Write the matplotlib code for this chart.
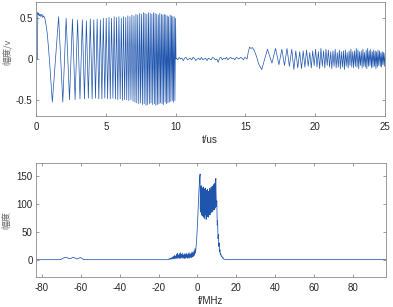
import numpy as np
import matplotlib
matplotlib.use("Agg")
import matplotlib.pyplot as plt

plt.rcParams['font.family'] = ['Liberation Sans', 'Noto Sans CJK SC', 'DejaVu Sans']
plt.rcParams['axes.unicode_minus'] = False

LINE = '#1f55ad'
GRAY = '#8a8a8a'
CJK = ['Noto Sans CJK SC', 'DejaVu Sans']

# ---------------- time domain (us, V) ----------------
# leading lobe of the transmitted chirp
start_t = [0.0, 0.1, 0.13, 0.16, 0.2, 0.25, 0.3, 0.35, 0.42, 0.48, 0.55, 0.63,
           0.72, 0.81, 0.96, 1.08]
start_v = [0.0, 0.0, 0.57, 0.54, 0.56, 0.53, 0.55, 0.52, 0.55, 0.51, 0.53, 0.5,
           0.42, 0.31, 0.0, -0.3]

# extrema of the transmitted chirp
chirp_t = [1.17, 1.62, 1.92, 2.16, 2.40, 2.61, 2.80, 2.98, 3.15, 3.32,
           3.47, 3.61, 3.75, 3.89, 4.02, 4.14, 4.26, 4.38, 4.50, 4.61,
           4.72, 4.82, 4.93, 5.03, 5.13, 5.23, 5.32, 5.41, 5.51, 5.60,
           5.69, 5.77, 5.86, 5.94, 6.03, 6.11, 6.19, 6.27, 6.35, 6.43,
           6.50, 6.58, 6.65, 6.73, 6.80, 6.87, 6.95, 7.02, 7.09, 7.16,
           7.22, 7.29, 7.36, 7.43, 7.49, 7.56, 7.62, 7.69, 7.75, 7.81,
           7.88, 7.94, 8.00, 8.06, 8.12, 8.18, 8.24, 8.30, 8.36, 8.42,
           8.48, 8.53, 8.59, 8.65, 8.70, 8.76, 8.81, 8.87, 8.92, 8.98,
           9.03, 9.09, 9.14, 9.19, 9.25, 9.30, 9.35, 9.40, 9.45, 9.50,
           9.55, 9.61, 9.66, 9.71, 9.76, 9.80, 9.85, 9.90, 9.95, 10.00]
chirp_v = [-0.53, 0.52, -0.53, 0.50, -0.50, 0.49, -0.50, 0.48, -0.49, 0.48,
           -0.49, 0.47, -0.48, 0.49, -0.49, 0.48, -0.48, 0.49, -0.49, 0.48,
           -0.49, 0.50, -0.48, 0.50, -0.49, 0.51, -0.49, 0.50, -0.48, 0.52,
           -0.49, 0.51, -0.50, 0.52, -0.49, 0.50, -0.51, 0.52, -0.50, 0.51,
           -0.50, 0.53, -0.51, 0.52, -0.50, 0.54, -0.52, 0.53, -0.53, 0.55,
           -0.54, 0.54, -0.55, 0.56, -0.54, 0.55, -0.56, 0.57, -0.55, 0.56,
           -0.57, 0.55, -0.56, 0.57, -0.55, 0.56, -0.54, 0.55, -0.56, 0.57,
           -0.55, 0.56, -0.57, 0.55, -0.56, 0.54, -0.55, 0.56, -0.54, 0.55,
           -0.55, 0.54, -0.56, 0.55, -0.53, 0.54, -0.55, 0.53, -0.54, 0.52,
           -0.53, 0.54, -0.52, 0.53, -0.51, 0.52, -0.53, 0.52, -0.51, 0.50]

# quiet gap between transmit and echo
noise_t = np.linspace(10.05, 15.05, 51)
noise_v = [0.01, -0.01, 0.02, 0.00, 0.01, -0.02, 0.01, 0.02, -0.01, 0.00,
           0.01, -0.01, 0.02, 0.01, -0.02, 0.00, 0.01, -0.01, 0.02, -0.01,
           0.00, 0.01, -0.02, 0.01, 0.00, -0.01, 0.02, 0.01, -0.01, 0.00,
           -0.04, 0.01, 0.02, -0.01, 0.01, 0.00, 0.02, -0.01, 0.01, 0.02,
           0.00, 0.01, -0.01, 0.02, 0.01, 0.00, 0.02, 0.01, -0.01, 0.02, 0.01]

# echo
echo0_t = [15.12, 15.2, 15.3, 15.4, 15.5, 15.62, 15.8, 15.95]
echo0_v = [0.0, 0.08, 0.145, 0.13, 0.14, 0.11, 0.03, -0.06]
echo_t = [16.17, 16.58, 16.90, 17.16, 17.40, 17.61, 17.80, 17.98, 18.15, 18.32,
          18.47, 18.61, 18.75, 18.89, 19.02, 19.14, 19.26, 19.38, 19.50, 19.61,
          19.72, 19.82, 19.93, 20.03, 20.13, 20.23, 20.32, 20.41, 20.51, 20.60,
          20.69, 20.77, 20.86, 20.94, 21.03, 21.11, 21.19, 21.27, 21.35, 21.43,
          21.50, 21.58, 21.65, 21.73, 21.80, 21.87, 21.95, 22.02, 22.09, 22.16,
          22.22, 22.29, 22.36, 22.43, 22.49, 22.56, 22.62, 22.69, 22.75, 22.81,
          22.88, 22.94, 23.00, 23.06, 23.12, 23.18, 23.24, 23.30, 23.36, 23.42,
          23.48, 23.53, 23.59, 23.65, 23.70, 23.76, 23.81, 23.87, 23.92, 23.98,
          24.03, 24.09, 24.14, 24.19, 24.25, 24.30, 24.35, 24.40, 24.45, 24.50,
          24.55, 24.61, 24.66, 24.71, 24.76, 24.80, 24.85, 24.90, 24.95, 25.00]
echo_v = [-0.13, 0.12, -0.05, 0.13, -0.07, 0.12, -0.08, 0.13, -0.09, 0.12,
          -0.13, 0.10, -0.11, 0.09, -0.12, 0.10, -0.10, 0.11, -0.09, 0.08,
          -0.11, 0.10, -0.08, 0.12, -0.10, 0.09, -0.12, 0.13, -0.09, 0.10,
          -0.11, 0.12, -0.08, 0.11, -0.10, 0.09, -0.12, 0.10, -0.09, 0.12,
          -0.11, 0.08, -0.10, 0.11, -0.12, 0.09, -0.10, 0.10, -0.13, 0.11,
          -0.09, 0.08, -0.11, 0.10, -0.08, 0.12, -0.10, 0.09, -0.11, 0.10,
          -0.09, 0.13, -0.10, 0.11, -0.12, 0.09, -0.08, 0.10, -0.11, 0.12,
          -0.09, 0.08, -0.10, 0.11, -0.12, 0.13, -0.09, 0.10, -0.08, 0.12,
          -0.11, 0.09, -0.10, 0.11, -0.09, 0.10, -0.12, 0.09, -0.10, 0.11,
          -0.08, 0.10, -0.09, 0.08, -0.10, 0.09, -0.07, 0.08, -0.09, 0.07]

# ---------------- spectrum (MHz, amplitude) ----------------
spec_a_f = [-83, -71, -70, -69, -68, -67, -66, -65, -64, -63, -62, -61, -60, -59, -58, -15.5]
spec_a_v = [0.3, 0.3, 1.0, 3.0, 4.5, 4.0, 2.0, 2.5, 4.5, 3.5, 1.5, 3.0, 4.0, 1.5, 0.3, 0.3]

spec_b_f = np.linspace(-15, -1, 57)
spec_b_v = [0.5, 1.5, 0.8, 2.5, 1.0, 3.0, 1.2, 4.0,
            1.5, 5.0, 2.0, 6.5, 1.5, 8.0, 2.5, 7.0,
            2.0, 10.0, 3.0, 12.0, 2.5, 9.0, 3.5, 11.0,
            2.0, 13.0, 3.0, 10.0, 4.0, 12.0, 2.5, 9.0,
            3.5, 11.0, 2.0, 10.0, 3.0, 12.0, 4.0, 9.5,
            2.5, 11.0, 3.5, 13.0, 3.0, 10.0, 4.5, 12.0,
            3.5, 14.0, 5.0, 13.0, 6.0, 16.0, 8.0, 20.0, 12.0]

spec_c_f = [-0.75, -0.5, -0.25, 0.0, 0.25, 0.5, 0.75, 1.0, 1.2, 1.4]
spec_c_v = [22, 30, 45, 60, 80, 100, 120, 135, 148, 153]

spec_d_f = np.linspace(1.5, 9.5, 81)
spec_d_v = [90, 130, 85, 125, 95, 132, 80, 120, 88, 128,
            78, 126, 92, 118, 84, 130, 76, 122, 90, 127,
            82, 119, 74, 125, 88, 116, 80, 128, 86, 121,
            72, 117, 85, 124, 79, 113, 90, 126, 77, 120,
            83, 115, 76, 122, 89, 118, 81, 127, 86, 119,
            80, 124, 91, 117, 84, 129, 88, 121, 93, 126,
            85, 131, 92, 123, 87, 128, 95, 134, 90, 127,
            96, 133, 89, 129, 98, 136, 92, 138, 100, 141,
            145]

spec_e_f = [9.6, 9.8, 10.0, 10.2, 10.4, 10.6, 10.8, 11.0, 11.2, 11.4,
            11.6, 11.8, 12.0, 12.3, 12.6, 12.9, 13.2, 13.5, 14.0, 14.5, 97]
spec_e_v = [120, 95, 105, 62, 70, 38, 45, 24, 30, 14,
            18, 9, 11, 6, 7, 3, 4, 1.5, 1.0, 0.4, 0.4]

t = np.concatenate([start_t, chirp_t, [10.03], noise_t, echo0_t, echo_t])
v = np.concatenate([start_v, chirp_v, [0.0], noise_v, echo0_v, echo_v])
f = np.concatenate([spec_a_f, spec_b_f, spec_c_f, spec_d_f, spec_e_f])
a = np.concatenate([spec_a_v, spec_b_v, spec_c_v, spec_d_v, spec_e_v])


def style(ax):
    for s in ax.spines.values():
        s.set_color(GRAY)
        s.set_linewidth(0.6)
    ax.tick_params(direction='in', length=2.5, width=0.6, color=GRAY,
                   labelsize=7, labelcolor='#262626', top=True, right=True)
    ax.tick_params(axis='x', pad=4.5)
    ax.tick_params(axis='y', pad=2.4)


fig = plt.figure(figsize=(3.93, 3.07), dpi=100)
W, H = 393, 307

ax1 = fig.add_axes([36 / W, 1 - 116 / H, 349 / W, 114 / H])
ax1.plot(t, v, color=LINE, lw=0.5)
ax1.set_xlim(0, 25)
ax1.set_ylim(-0.7, 0.7)
ax1.set_xticks([0, 5, 10, 15, 20, 25])
ax1.set_yticks([-0.5, 0, 0.5])
ax1.set_yticklabels(['-0.5', '0', '0.5'])
style(ax1)

ax2 = fig.add_axes([36 / W, 1 - 276.7 / H, 350 / W, 113.4 / H])
ax2.plot(f, a, color=LINE, lw=0.55)
ax2.set_xlim(-83, 97)
ax2.set_ylim(-30, 172)
ax2.set_xticks([-80, -60, -40, -20, 0, 20, 40, 60, 80])
ax2.set_yticks([0, 50, 100, 150])
style(ax2)

fig.text(7 / W, 1 - 52 / H, '幅度/v', rotation=90, ha='center', va='center',
         fontsize=6.5, color='#666666', family=CJK)
fig.text(7 / W, 1 - 220 / H, '幅度', rotation=90, ha='center', va='center',
         fontsize=6.5, color='#666666', family=CJK)
fig.text(210 / W, 1 - 140 / H, 't/us', ha='center', va='center',
         fontsize=7, color='#262626')
fig.text(211 / W, 1 - 300.5 / H, 'f/MHz', ha='center', va='center',
         fontsize=7, color='#262626')

fig.savefig('out.png', dpi=100)
